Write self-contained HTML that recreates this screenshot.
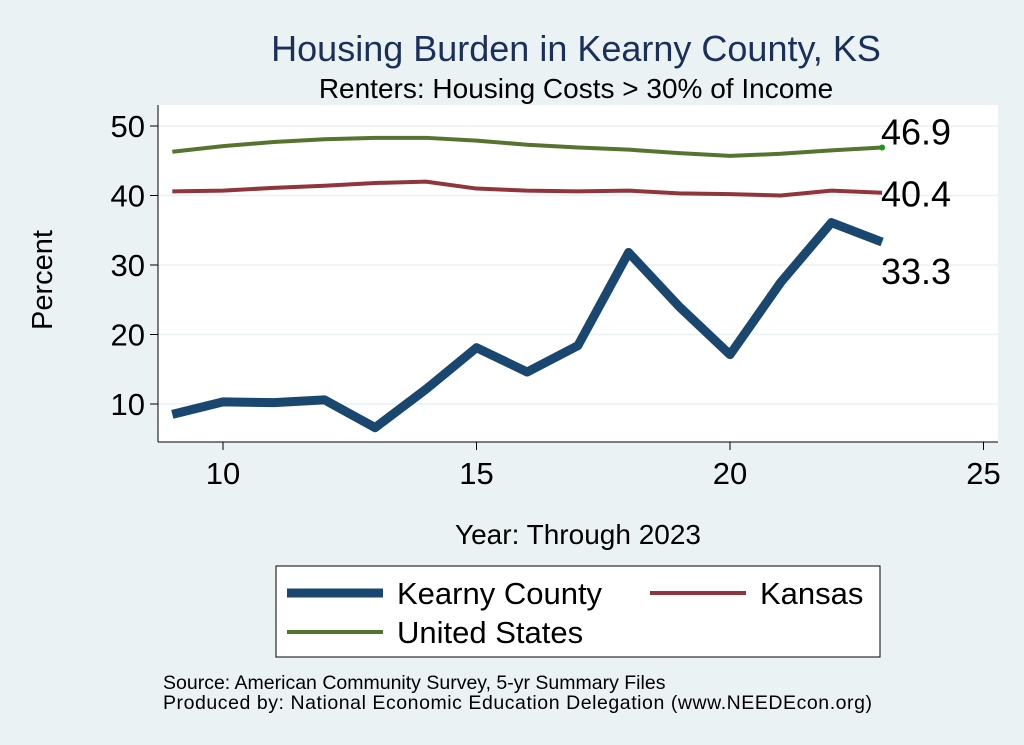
<!DOCTYPE html>
<html><head><meta charset="utf-8"><style>
body{margin:0;background:#eaf2f3;}
svg{display:block;font-family:"Liberation Sans",sans-serif;}
</style></head><body>
<svg id="c" width="1024" height="745">
<rect x="0" y="0" width="1024" height="745" fill="#eaf2f3"/>
<text x="576" y="61" font-size="36" fill="#1a2f5a" text-anchor="middle">Housing Burden in Kearny County, KS</text>
<text x="576" y="98" font-size="28" fill="#000" text-anchor="middle">Renters: Housing Costs &gt; 30% of Income</text>
<rect x="158" y="105" width="840" height="337" fill="#fff"/>
<g id="grid"></g>
<g id="axes"></g>
<g id="series"></g>
<text x="52" y="280" font-size="29" transform="rotate(-90 52 280)" text-anchor="middle">Percent</text>
<text x="578" y="544" font-size="28" text-anchor="middle">Year: Through 2023</text>
<g>
<rect x="276" y="566" width="604" height="91" fill="#fff" stroke="#000" stroke-width="1"/>
<line x1="287" y1="593" x2="383" y2="593" stroke="#1a476f" stroke-width="9"/>
<text x="397" y="604" font-size="31">Kearny County</text>
<line x1="650" y1="593" x2="746" y2="593" stroke="#90353b" stroke-width="4"/>
<text x="760" y="604" font-size="31">Kansas</text>
<line x1="287" y1="632" x2="383" y2="632" stroke="#55752f" stroke-width="4"/>
<text x="397" y="643" font-size="31">United States</text>
</g>
<text x="163" y="689" font-size="19.5">Source: American Community Survey, 5-yr Summary Files</text>
<text x="163" y="709" font-size="19.5" textLength="709" lengthAdjust="spacing">Produced by: National Economic Education Delegation (www.NEEDEcon.org)</text>
</svg>
<script>
const years=[9,10,11,12,13,14,15,16,17,18,19,20,21,22,23];
const kearny=[8.5,10.3,10.2,10.6,6.6,12.1,18.1,14.6,18.4,31.8,24.0,17.1,27.5,36.1,33.3];
const kansas=[40.6,40.7,41.1,41.4,41.8,42.0,41.0,40.7,40.6,40.7,40.3,40.2,40.0,40.7,40.4];
const us=[46.3,47.1,47.7,48.1,48.3,48.3,47.9,47.3,46.9,46.6,46.1,45.7,46.0,46.5,46.9];
const xTicks=[10,15,20,25];
const yTicks=[10,20,30,40,50];
const NS="http://www.w3.org/2000/svg";
function X(v){return 223+(v-10)*50.7;}
function Y(v){return 126+(50-v)*6.95;}
function mk(t,a,p){const e=document.createElementNS(NS,t);for(const k in a)e.setAttribute(k,a[k]);p.appendChild(e);return e;}
const grid=document.getElementById('grid'),axes=document.getElementById('axes'),ser=document.getElementById('series');
yTicks.forEach(v=>{
 const g=mk('line',{x1:158,x2:998,y1:Y(v),y2:Y(v),stroke:'#eaf2f3','stroke-width':1.5},grid);
 
 
 mk('line',{x1:150,x2:158,y1:Y(v),y2:Y(v),stroke:'#000'},axes);
 const t=mk('text',{x:145,y:Y(v)+11,'font-size':31,'text-anchor':'end'},axes);t.textContent=v;
 
 
});
mk('line',{x1:158,x2:158,y1:105,y2:442,stroke:'#000'},axes);
mk('line',{x1:158,x2:998,y1:442,y2:442,stroke:'#000'},axes);
xTicks.forEach(v=>{
 mk('line',{x1:X(v),x2:X(v),y1:442,y2:450,stroke:'#000'},axes);
 const t=mk('text',{x:X(v),y:484,'font-size':31,'text-anchor':'middle'},axes);t.textContent=v;
 
 
});
function line(d,c,w,name){
 const p=mk('polyline',{points:years.map((y,i)=>X(y)+','+Y(d[i])).join(' '),fill:'none',stroke:c,'stroke-width':w,'stroke-linejoin':'round'},ser);
 
 
}
line(us,'#55752f',4,'line-united-states');
line(kansas,'#90353b',4,'line-kansas');
line(kearny,'#1a476f',9,'line-kearny-county');
mk('circle',{cx:X(23),cy:Y(us[14]),r:3,fill:'#1a9a1a'},ser);
function lab(v,y,name){const t=mk('text',{x:881,y:y,'font-size':36},ser);t.textContent=v.toFixed(1);
 
 }
lab(us[14],Y(us[14])-3,'label-us-last');
lab(kansas[14],Y(kansas[14])+14,'label-kansas-last');
lab(kearny[14],Y(kearny[14])+42,'label-kearny-last');
</script>
</body></html>
